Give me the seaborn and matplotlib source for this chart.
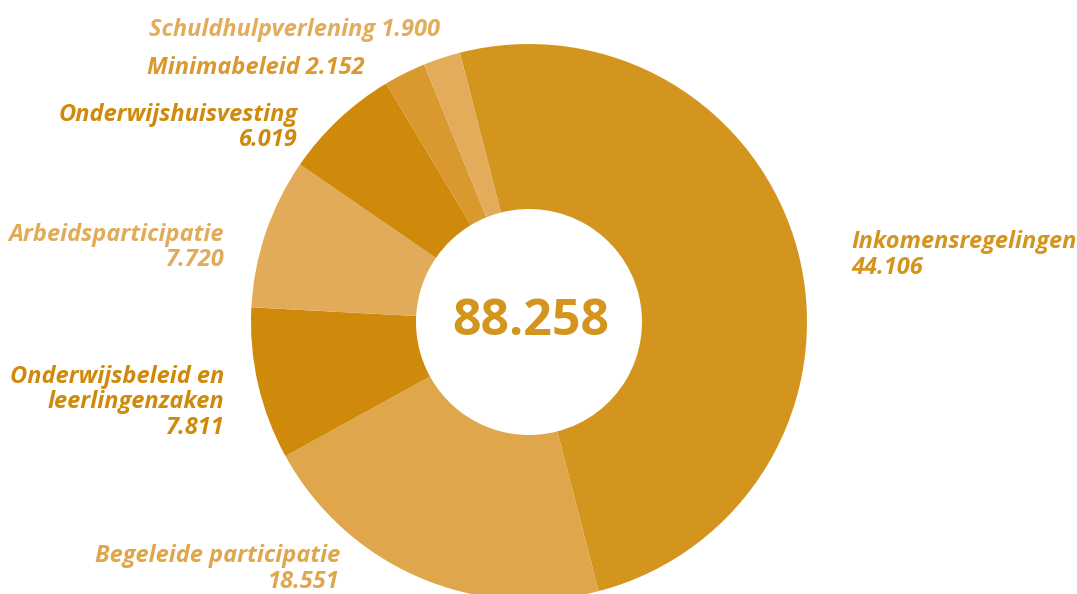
import matplotlib
matplotlib.use("Agg")
import matplotlib.pyplot as plt
import seaborn as sns

# Budget per domain (x 1.000 euro), clockwise from the top
categories = [
    "Inkomensregelingen",
    "Begeleide participatie",
    "Onderwijsbeleid en\nleerlingenzaken",
    "Arbeidsparticipatie",
    "Onderwijshuisvesting",
    "Minimabeleid",
    "Schuldhulpverlening",
]
values = [44106, 18551, 7811, 7720, 6019, 2152, 1900]
total_label = 88258

colors = sns.color_palette([
    "#D4951F",  # Inkomensregelingen
    "#DFA64B",  # Begeleide participatie
    "#D08A0B",  # Onderwijsbeleid en leerlingenzaken
    "#E2AB5A",  # Arbeidsparticipatie
    "#CF8A0B",  # Onderwijshuisvesting
    "#D9992E",  # Minimabeleid
    "#E3AC5B",  # Schuldhulpverlening
])


def fmt(v):
    return f"{v:,}".replace(",", ".")


sns.set_theme(style="white")
plt.rcParams["font.family"] = ["Open Sans", "DejaVu Sans"]

W, H = 1077, 594
fig = plt.figure(figsize=(W / 100, H / 100), dpi=100)
ax = fig.add_axes([0, 0, 1, 1])


def py(y):
    return H - y


cx, cy, r_out, r_in = 529, 322, 278, 113
ax.pie(values, colors=colors, startangle=104.4, counterclock=False,
       center=(cx, py(cy)), radius=r_out, frame=True,
       wedgeprops=dict(width=r_out - r_in, edgecolor="none", linewidth=0))
ax.set_xlim(0, W)
ax.set_ylim(0, H)
ax.set_aspect("equal")
ax.axis("off")

# label anchors: (x, first baseline, alignment, value on same line)
anchors = [
    (851, 248, "left", False),
    (340, 562, "right", False),
    (224, 383, "right", False),
    (224, 241, "right", False),
    (298, 121, "right", False),
    (365, 74, "right", True),
    (440, 36, "right", True),
]
line_h = 25.5
for name, val, col, (x, y0, ha, inline) in zip(categories, values, colors, anchors):
    if inline:
        lines = [f"{name} {fmt(val)}"]
    else:
        lines = name.split("\n") + [fmt(val)]
    for i, line in enumerate(lines):
        ax.text(x, py(y0 + i * line_h), line, ha=ha, va="baseline",
                fontsize=17, fontweight="bold", fontstyle="italic", color=col)

ax.text(cx + 2, py(322), fmt(total_label), ha="center", va="center",
        fontsize=36, fontweight="bold", color="#D4951F")

fig.savefig("out.png", dpi=100, facecolor="white")
